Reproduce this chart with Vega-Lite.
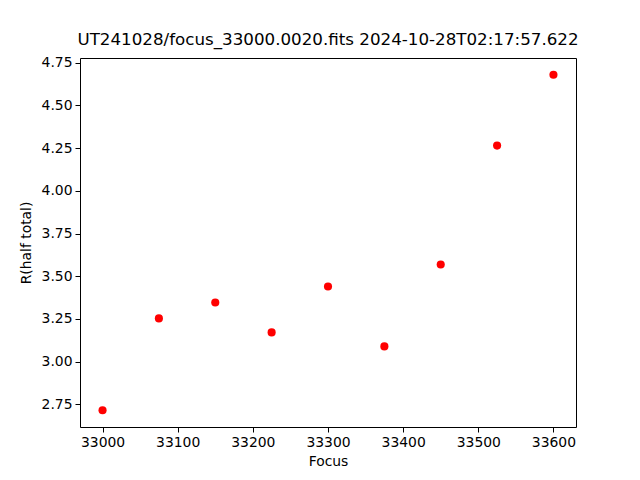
{
  "$schema": "https://vega.github.io/schema/vega-lite/v6.json",
  "width": 496,
  "height": 369,
  "autosize": {"type": "none"},
  "padding": {"left": 80, "top": 58, "right": 64, "bottom": 53},
  "background": "white",
  "title": {
    "text": "UT241028/focus_33000.0020.fits 2024-10-28T02:17:57.622",
    "font": "DejaVu Sans",
    "fontSize": 16.7,
    "fontWeight": "normal",
    "color": "black",
    "anchor": "middle",
    "offset": 7
  },
  "data": {
    "values": [
      {"focus": 33000, "r": 2.715},
      {"focus": 33075, "r": 3.253},
      {"focus": 33150, "r": 3.346},
      {"focus": 33225, "r": 3.171},
      {"focus": 33300, "r": 3.44},
      {"focus": 33375, "r": 3.089},
      {"focus": 33450, "r": 3.569},
      {"focus": 33525, "r": 4.265},
      {"focus": 33600, "r": 4.68}
    ]
  },
  "mark": {"type": "point", "filled": true, "shape": "circle", "size": 66, "color": "#ff0000", "opacity": 1},
  "encoding": {
    "x": {
      "field": "focus", "type": "quantitative", "title": "Focus",
      "scale": {"domain": [32970, 33630], "nice": false, "zero": false},
      "axis": {"values": [33000, 33100, 33200, 33300, 33400, 33500, 33600], "format": "d"}
    },
    "y": {
      "field": "r", "type": "quantitative", "title": "R(half total)",
      "scale": {"domain": [2.617, 4.778], "nice": false, "zero": false},
      "axis": {"values": [2.75, 3.0, 3.25, 3.5, 3.75, 4.0, 4.25, 4.5, 4.75], "format": ".2f"}
    }
  },
  "config": {
    "view": {"stroke": "black", "strokeWidth": 1},
    "axis": {
      "grid": false,
      "domain": false,
      "tickColor": "black",
      "tickSize": 5,
      "tickWidth": 1,
      "labelFont": "DejaVu Sans",
      "labelFontSize": 13.9,
      "labelColor": "black",
      "labelPadding": 3,
      "titleFont": "DejaVu Sans",
      "titleFontSize": 13.9,
      "titleFontWeight": "normal",
      "titleColor": "black"
    },
    "axisX": {"titlePadding": 6},
    "axisY": {"titlePadding": 8}
  }
}
